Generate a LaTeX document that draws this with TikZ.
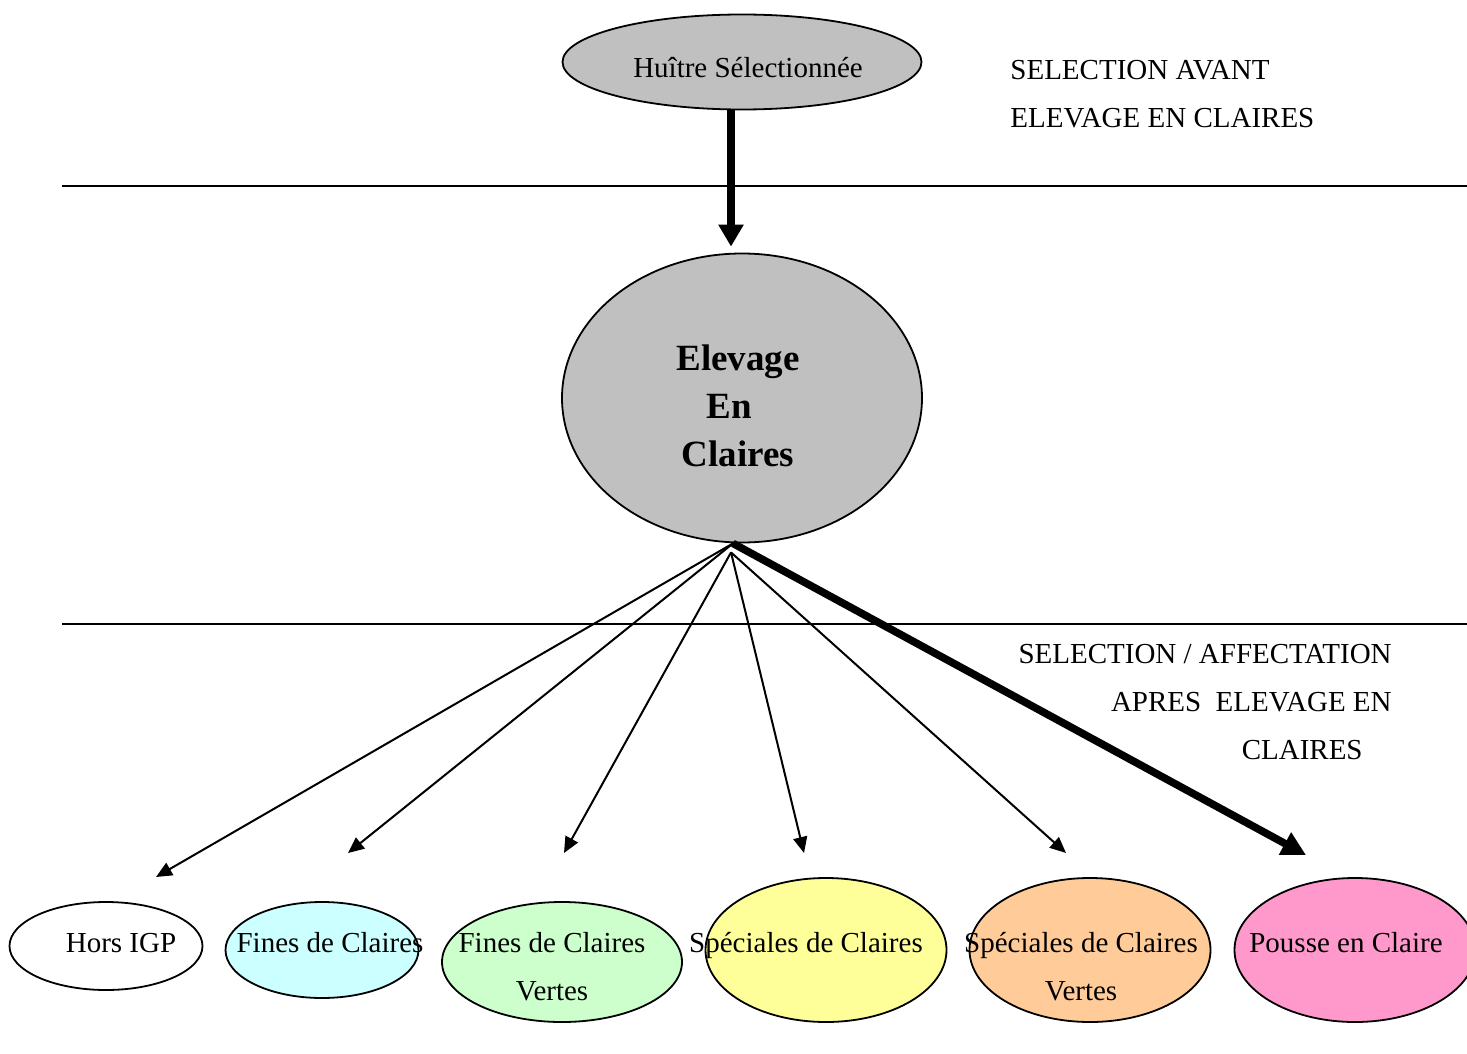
\documentclass[tikz,border=0pt]{standalone}
\usepackage{fontspec}
\setmainfont{Liberation Serif}
\usetikzlibrary{shapes.geometric,arrows.meta}

\definecolor{ovgrey}{HTML}{C0C0C0}
\definecolor{ovcyan}{HTML}{CCFFFF}
\definecolor{ovgreen}{HTML}{CCFFCC}
\definecolor{ovyellow}{HTML}{FFFF99}
\definecolor{ovorange}{HTML}{FFCC99}
\definecolor{ovpink}{HTML}{FF99CC}

\begin{document}
\begin{tikzpicture}[x=0.5pt,y=-0.5pt,
    oval/.style={ellipse,draw,line width=0.9pt,inner sep=0pt},
    txt/.style={font=\fontsize{14.5}{24}\selectfont,inner sep=0pt,anchor=base,align=center},
    branch/.style={line width=1pt,-{Triangle[length=8pt,width=7pt]}},
    mainbranch/.style={line width=3.8pt,-{Triangle[length=12pt,width=12pt]}}]
    \useasboundingbox (0,0) rectangle (1467,1054);
    % separating rules
    \draw[line width=0.9pt] (62,186) -- (1467,186);
    \draw[line width=0.9pt] (62,624) -- (1467,624);
    % ellipses
    \node[oval,fill=ovgrey,minimum width=179.5pt,minimum height=47.5pt] (huitre) at (742,62) {};
    \node[oval,fill=ovgrey,minimum width=180pt,minimum height=144.5pt] (elevage) at (742,398) {};
    \node[oval,fill=white,minimum width=96.5pt,minimum height=44pt] (hors) at (106,946) {};
    \node[oval,fill=ovcyan,minimum width=96.5pt,minimum height=48pt] (fines) at (322,950) {};
    \node[oval,fill=ovgreen,minimum width=120pt,minimum height=60pt] (finesv) at (562,962) {};
    \node[oval,fill=ovyellow,minimum width=120.5pt,minimum height=72pt] (spec) at (826,950) {};
    \node[oval,fill=ovorange,minimum width=120.5pt,minimum height=72pt] (specv) at (1090,950) {};
    \node[oval,fill=ovpink,minimum width=120.5pt,minimum height=72pt] (pousse) at (1355,950) {};
    % texts (base = last line)
    \node[txt] (huitretxt) at (748,78) {Huître Sélectionnée};
    \node[txt,font=\fontsize{18.5}{24}\selectfont\bfseries] (elevagetxt) at (738,466) {Elevage\\En\kern9pt\\Claires};
    \node[txt] (horstxt) at (121,952) {Hors IGP};
    \node[txt] (finestxt) at (330,952) {Fines de Claires};
    \node[txt] (finesvtxt) at (552,1000) {Fines de Claires\\Vertes};
    \node[txt] (spectxt) at (806,952) {Spéciales de Claires};
    \node[txt] (specvtxt) at (1081,1000) {Spéciales de Claires\\Vertes};
    \node[txt] (poussetxt) at (1346,952) {Pousse en Claire};
    \node[txt,anchor=base west,align=left] (avant) at (1010,127) {SELECTION AVANT\\ELEVAGE EN CLAIRES};
    \node[txt,anchor=base east,align=right] (apres) at (1392,759) {SELECTION / AFFECTATION\\APRES~~ELEVAGE EN\\CLAIRES\hspace*{14.5pt}};
    % arrow tips
    \coordinate (t1) at (156,877);
    \coordinate (t2) at (348,853);
    \coordinate (t3) at (564,853);
    \coordinate (t4) at (804,853);
    \coordinate (t5) at (1066,853);
    \coordinate (t6) at (1306,855);
    \draw[line width=4.3pt,-{Triangle[length=11pt,width=12pt]},shorten >=3pt]
    ([xshift=-5.5pt]huitre.south) -- ([xshift=-5.5pt]elevage.north);
    \draw[branch] ([xshift=-4.5pt]elevage.south) -- (t1);
    \draw[branch] ([xshift=-4.5pt]elevage.south) -- (t2);
    \foreach \t in {t3,t4,t5}
    \draw[branch] ([xshift=-5.5pt,yshift=-4.5pt]elevage.south) -- (\t);
    \draw[mainbranch] ([xshift=-4.5pt]elevage.south) -- (t6);
\end{tikzpicture}
\end{document}
